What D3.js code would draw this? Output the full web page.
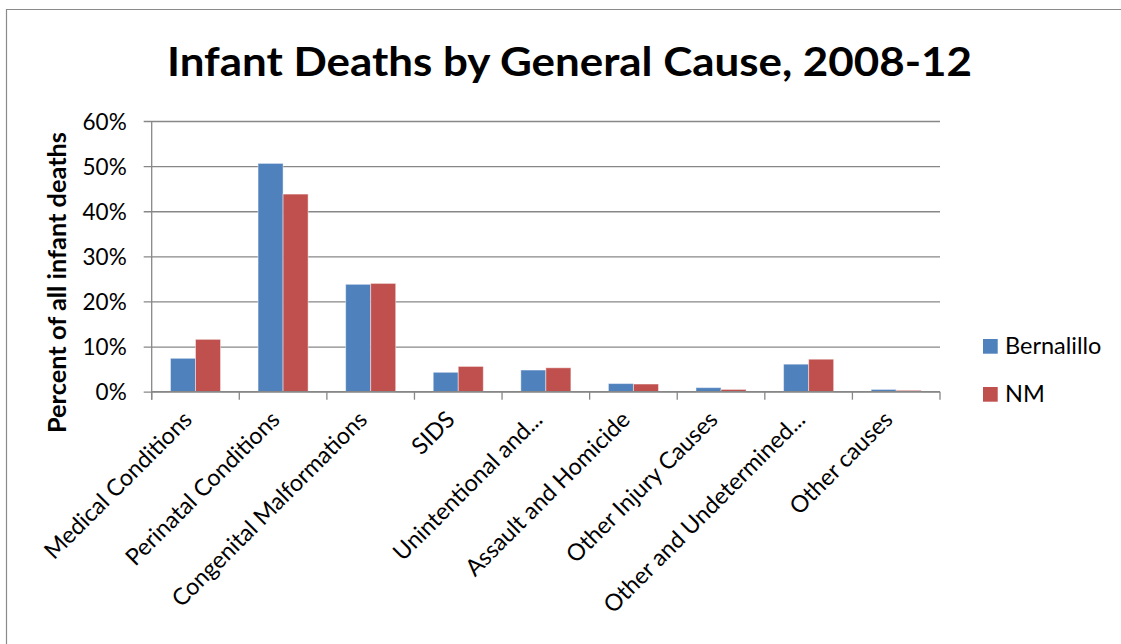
<!DOCTYPE html>
<html>
<head>
<meta charset="utf-8">
<script src="https://cdn.jsdelivr.net/npm/d3@7"></script>
<style>
  html, body { margin: 0; padding: 0; background: #ffffff; }
  svg { display: block; }
  text { font-family: Lato, "Liberation Sans", sans-serif; fill: #000; }
</style>
</head>
<body>
<svg id="chart" width="1121" height="644"></svg>
<script>
// Infant deaths by general cause, share of all infant deaths, 2008-12
const categories = [
  "Medical Conditions",
  "Perinatal Conditions",
  "Congenital Malformations",
  "SIDS",
  "Unintentional and...",
  "Assault and Homicide",
  "Other Injury Causes",
  "Other and Undetermined...",
  "Other causes"
];
const seriesNames = ["Bernalillo", "NM"];
const bernalillo = [7.4, 50.6, 23.8, 4.3, 4.8, 1.8, 0.9, 6.1, 0.5];
const nm = [11.6, 43.8, 24.0, 5.6, 5.3, 1.7, 0.5, 7.2, 0.3];
const yTicks = [0, 10, 20, 30, 40, 50, 60];
const titleText = "Infant Deaths by General Cause, 2008-12";
const yAxisTitle = "Percent of all infant deaths";

const seriesValues = { "Bernalillo": bernalillo, "NM": nm };
const colors = { "Bernalillo": "#4F81BD", "NM": "#C0504D" };

const svg = d3.select("#chart");
const plot = { left: 151.7, right: 940, top: 121, bottom: 391.7 };
const gridColor = "#878787";

// outer frame of the chart area
svg.append("path")
  .attr("d", "M6.5,644 L6.5,9.5 L1121,9.5")
  .attr("fill", "none")
  .attr("stroke", "#8a8a8a")
  .attr("stroke-width", 1.2);

// title
svg.append("text")
  .attr("x", 569.5)
  .attr("y", 76)
  .attr("text-anchor", "middle")
  .attr("font-weight", "bold")
  .attr("font-size", 40)
  .attr("textLength", 805)
  .attr("lengthAdjust", "spacingAndGlyphs")
  .text(titleText);

const x0 = d3.scaleBand()
  .domain(categories)
  .range([plot.left, plot.right])
  .paddingInner(0)
  .paddingOuter(0);

const x1 = d3.scaleBand()
  .domain(seriesNames)
  .range([0, x0.bandwidth()])
  .paddingInner(0)
  .paddingOuter(0.75);

const y = d3.scaleLinear()
  .domain([0, 60])
  .range([plot.bottom, plot.top]);

// horizontal gridlines with left ticks and labels
const yAxis = d3.axisLeft(y)
  .tickValues(yTicks)
  .tickSize(-(plot.right - plot.left))
  .tickPadding(25)
  .tickFormat(d => d + "%");

const gy = svg.append("g")
  .attr("transform", `translate(${plot.left},0)`)
  .call(yAxis);
gy.select(".domain").remove();
gy.selectAll(".tick line")
  .attr("x1", -8)
  .attr("stroke", gridColor)
  .attr("stroke-width", 1.3);
gy.selectAll(".tick text")
  .attr("font-size", 22.5)
  .attr("font-family", "Lato, 'Liberation Sans', sans-serif")
  .attr("fill", "#000")
  .attr("dy", "0.36em");

// vertical value axis line
svg.append("line")
  .attr("x1", plot.left).attr("x2", plot.left)
  .attr("y1", plot.top).attr("y2", plot.bottom + 8)
  .attr("stroke", gridColor)
  .attr("stroke-width", 1.3);

// bars
const groups = svg.append("g")
  .selectAll("g")
  .data(categories)
  .join("g")
  .attr("transform", d => `translate(${x0(d)},0)`);

groups.selectAll("rect")
  .data((d, i) => seriesNames.map(s => ({ key: s, value: seriesValues[s][i] })))
  .join("rect")
  .attr("x", d => x1(d.key))
  .attr("width", x1.bandwidth())
  .attr("y", d => y(d.value))
  .attr("height", d => y(0) - y(d.value))
  .attr("fill", d => colors[d.key])
  .attr("stroke", "rgba(255,255,255,0.45)")
  .attr("stroke-width", 1);

// category axis with ticks between groups
const xAxisLine = svg.append("g");
xAxisLine.append("line")
  .attr("x1", plot.left).attr("x2", plot.right)
  .attr("y1", plot.bottom).attr("y2", plot.bottom)
  .attr("stroke", gridColor)
  .attr("stroke-width", 1.3);
xAxisLine.selectAll("line.sep")
  .data(categories.concat([null]))
  .join("line")
  .attr("class", "sep")
  .attr("x1", d => d === null ? plot.right : x0(d))
  .attr("x2", d => d === null ? plot.right : x0(d))
  .attr("y1", plot.bottom)
  .attr("y2", plot.bottom + 8)
  .attr("stroke", gridColor)
  .attr("stroke-width", 1.3);

// rotated category labels
svg.append("g")
  .selectAll("text")
  .data(categories)
  .join("text")
  .attr("transform", d => `translate(${x0(d) + x0.bandwidth() / 2 - 2},421) rotate(-45)`)
  .attr("text-anchor", "end")
  .attr("font-size", 23.3)
  .text(d => d);

// y axis title
svg.append("text")
  .attr("transform", "translate(66,282.5) rotate(-90)")
  .attr("text-anchor", "middle")
  .attr("font-weight", "bold")
  .attr("font-size", 24)
  .attr("textLength", 301)
  .attr("lengthAdjust", "spacingAndGlyphs")
  .text(yAxisTitle);

// legend
const legend = svg.append("g")
  .selectAll("g")
  .data(seriesNames)
  .join("g")
  .attr("transform", (d, i) => `translate(983,${339 + i * 48})`);
legend.append("rect")
  .attr("width", 14.7)
  .attr("height", 14.7)
  .attr("fill", d => colors[d]);
legend.append("text")
  .attr("x", 22)
  .attr("y", 15)
  .attr("font-size", 23.5)
  .text(d => d);
</script>
</body>
</html>
